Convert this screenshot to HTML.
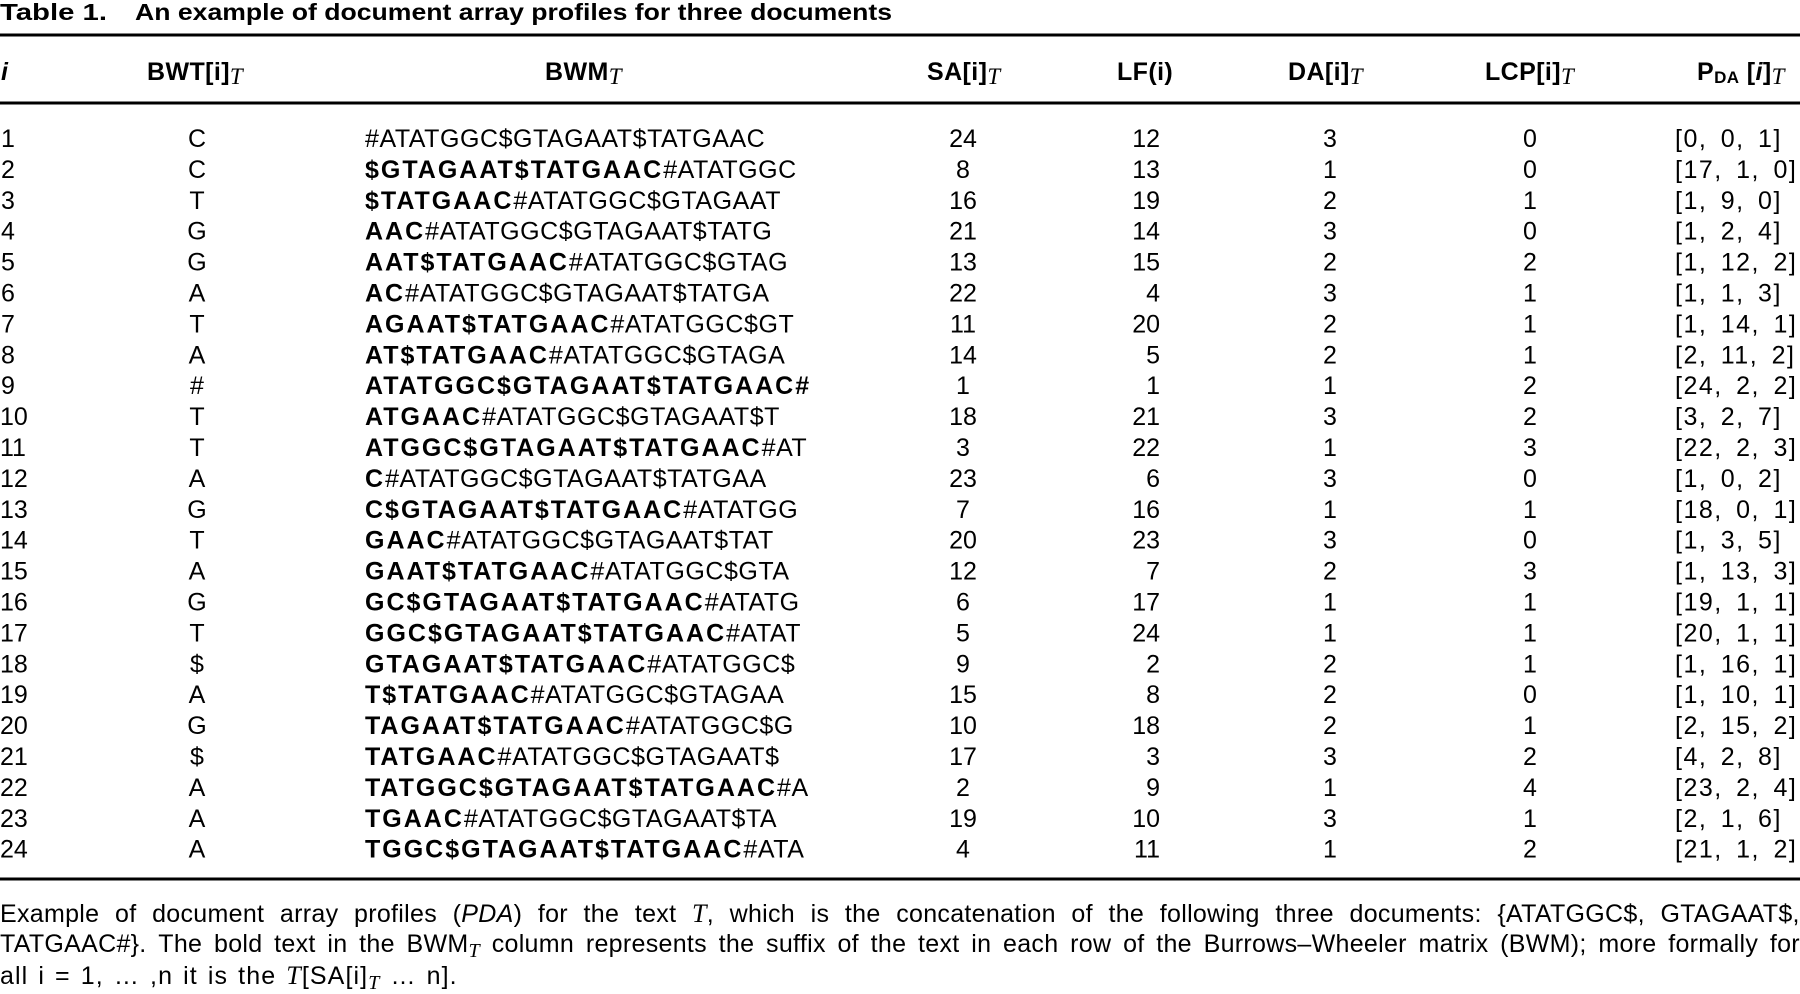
<!DOCTYPE html>
<html>
<head>
<meta charset="utf-8">
<style>
html,body{margin:0;padding:0;background:#fff;}
body{position:relative;width:1800px;height:991px;overflow:hidden;}
svg{display:block;position:absolute;left:0;top:0;}
.b{font-weight:bold;letter-spacing:2px;}
.sc{font-family:"Liberation Serif",serif;font-style:italic;font-weight:normal;}
.cap{position:absolute;left:0;width:1800px;height:30px;line-height:30px;font-family:"Liberation Sans",sans-serif;font-size:25px;color:#000;white-space:nowrap;}
.j{display:flex;justify-content:space-between;letter-spacing:0.3px;}
.scr{font-family:"Liberation Serif",serif;font-style:italic;font-size:26px;}
.sub{font-family:"Liberation Serif",serif;font-style:italic;font-size:20px;position:relative;top:5px;}
</style>
</head>
<body>
<svg width="1800" height="991" viewBox="0 0 1800 991" font-family="Liberation Sans, sans-serif" font-size="25" fill="#000">
<!-- Title -->
<text x="0" y="20" font-weight="bold" font-size="23" textLength="107" lengthAdjust="spacingAndGlyphs">Table 1.</text>
<text x="135" y="20" font-weight="bold" font-size="23" textLength="757" lengthAdjust="spacingAndGlyphs">An example of document array profiles for three documents</text>

<!-- Rules -->
<rect x="0" y="33.5" width="1800" height="3"/>
<rect x="0" y="101.5" width="1800" height="3"/>
<rect x="0" y="877.5" width="1800" height="3"/>

<!-- Header -->
<g font-weight="bold" font-size="25" letter-spacing="0.4">
<text x="1" y="80" font-style="italic">i</text>
<text x="147" y="80">BWT[i]<tspan class="sc" font-size="23" dy="4">T</tspan></text>
<text x="545" y="80">BWM<tspan class="sc" font-size="23" dy="4">T</tspan></text>
<text x="927" y="80">SA[i]<tspan class="sc" font-size="23" dy="4">T</tspan></text>
<text x="1117" y="80">LF(i)</text>
<text x="1288" y="80">DA[i]<tspan class="sc" font-size="23" dy="4">T</tspan></text>
<text x="1485" y="80">LCP[i]<tspan class="sc" font-size="23" dy="4">T</tspan></text>
<text x="1697" y="80">P<tspan font-size="17" dy="3">DA</tspan><tspan dy="-3"> [</tspan><tspan font-style="italic">i</tspan>]<tspan class="sc" font-size="23" dy="4">T</tspan></text>
</g>

<!-- Column i -->
<g>
<text x="1" y="147">1</text>
<text x="1" y="177.9">2</text>
<text x="1" y="208.8">3</text>
<text x="1" y="239.7">4</text>
<text x="1" y="270.6">5</text>
<text x="1" y="301.5">6</text>
<text x="1" y="332.4">7</text>
<text x="1" y="363.3">8</text>
<text x="1" y="394.2">9</text>
<text x="0" y="425.1">10</text>
<text x="0" y="456">11</text>
<text x="0" y="486.9">12</text>
<text x="0" y="517.8">13</text>
<text x="0" y="548.7">14</text>
<text x="0" y="579.6">15</text>
<text x="0" y="610.5">16</text>
<text x="0" y="641.4">17</text>
<text x="0" y="672.3">18</text>
<text x="0" y="703.2">19</text>
<text x="0" y="734.1">20</text>
<text x="0" y="765">21</text>
<text x="0" y="795.9">22</text>
<text x="0" y="826.8">23</text>
<text x="0" y="857.7">24</text>
</g>

<!-- BWT -->
<g text-anchor="middle">
<text x="197" y="147">C</text>
<text x="197" y="177.9">C</text>
<text x="197" y="208.8">T</text>
<text x="197" y="239.7">G</text>
<text x="197" y="270.6">G</text>
<text x="197" y="301.5">A</text>
<text x="197" y="332.4">T</text>
<text x="197" y="363.3">A</text>
<text x="197" y="394.2">#</text>
<text x="197" y="425.1">T</text>
<text x="197" y="456">T</text>
<text x="197" y="486.9">A</text>
<text x="197" y="517.8">G</text>
<text x="197" y="548.7">T</text>
<text x="197" y="579.6">A</text>
<text x="197" y="610.5">G</text>
<text x="197" y="641.4">T</text>
<text x="197" y="672.3">$</text>
<text x="197" y="703.2">A</text>
<text x="197" y="734.1">G</text>
<text x="197" y="765">$</text>
<text x="197" y="795.9">A</text>
<text x="197" y="826.8">A</text>
<text x="197" y="857.7">A</text>
</g>

<!-- BWM -->
<g font-size="25" letter-spacing="0.55">
<text x="365" y="147">#ATATGGC$GTAGAAT$TATGAAC</text>
<text x="365" y="177.9"><tspan class="b">$GTAGAAT$TATGAAC</tspan>#ATATGGC</text>
<text x="365" y="208.8"><tspan class="b">$TATGAAC</tspan>#ATATGGC$GTAGAAT</text>
<text x="365" y="239.7"><tspan class="b">AAC</tspan>#ATATGGC$GTAGAAT$TATG</text>
<text x="365" y="270.6"><tspan class="b">AAT$TATGAAC</tspan>#ATATGGC$GTAG</text>
<text x="365" y="301.5"><tspan class="b">AC</tspan>#ATATGGC$GTAGAAT$TATGA</text>
<text x="365" y="332.4"><tspan class="b">AGAAT$TATGAAC</tspan>#ATATGGC$GT</text>
<text x="365" y="363.3"><tspan class="b">AT$TATGAAC</tspan>#ATATGGC$GTAGA</text>
<text x="365" y="394.2"><tspan class="b">ATATGGC$GTAGAAT$TATGAAC#</tspan></text>
<text x="365" y="425.1"><tspan class="b">ATGAAC</tspan>#ATATGGC$GTAGAAT$T</text>
<text x="365" y="456"><tspan class="b">ATGGC$GTAGAAT$TATGAAC</tspan>#AT</text>
<text x="365" y="486.9"><tspan class="b">C</tspan>#ATATGGC$GTAGAAT$TATGAA</text>
<text x="365" y="517.8"><tspan class="b">C$GTAGAAT$TATGAAC</tspan>#ATATGG</text>
<text x="365" y="548.7"><tspan class="b">GAAC</tspan>#ATATGGC$GTAGAAT$TAT</text>
<text x="365" y="579.6"><tspan class="b">GAAT$TATGAAC</tspan>#ATATGGC$GTA</text>
<text x="365" y="610.5"><tspan class="b">GC$GTAGAAT$TATGAAC</tspan>#ATATG</text>
<text x="365" y="641.4"><tspan class="b">GGC$GTAGAAT$TATGAAC</tspan>#ATAT</text>
<text x="365" y="672.3"><tspan class="b">GTAGAAT$TATGAAC</tspan>#ATATGGC$</text>
<text x="365" y="703.2"><tspan class="b">T$TATGAAC</tspan>#ATATGGC$GTAGAA</text>
<text x="365" y="734.1"><tspan class="b">TAGAAT$TATGAAC</tspan>#ATATGGC$G</text>
<text x="365" y="765"><tspan class="b">TATGAAC</tspan>#ATATGGC$GTAGAAT$</text>
<text x="365" y="795.9"><tspan class="b">TATGGC$GTAGAAT$TATGAAC</tspan>#A</text>
<text x="365" y="826.8"><tspan class="b">TGAAC</tspan>#ATATGGC$GTAGAAT$TA</text>
<text x="365" y="857.7"><tspan class="b">TGGC$GTAGAAT$TATGAAC</tspan>#ATA</text>
</g>

<!-- SA -->
<g text-anchor="middle">
<text x="963" y="147">24</text>
<text x="963" y="177.9">8</text>
<text x="963" y="208.8">16</text>
<text x="963" y="239.7">21</text>
<text x="963" y="270.6">13</text>
<text x="963" y="301.5">22</text>
<text x="963" y="332.4">11</text>
<text x="963" y="363.3">14</text>
<text x="963" y="394.2">1</text>
<text x="963" y="425.1">18</text>
<text x="963" y="456">3</text>
<text x="963" y="486.9">23</text>
<text x="963" y="517.8">7</text>
<text x="963" y="548.7">20</text>
<text x="963" y="579.6">12</text>
<text x="963" y="610.5">6</text>
<text x="963" y="641.4">5</text>
<text x="963" y="672.3">9</text>
<text x="963" y="703.2">15</text>
<text x="963" y="734.1">10</text>
<text x="963" y="765">17</text>
<text x="963" y="795.9">2</text>
<text x="963" y="826.8">19</text>
<text x="963" y="857.7">4</text>
</g>

<!-- LF -->
<g text-anchor="end">
<text x="1160" y="147">12</text>
<text x="1160" y="177.9">13</text>
<text x="1160" y="208.8">19</text>
<text x="1160" y="239.7">14</text>
<text x="1160" y="270.6">15</text>
<text x="1160" y="301.5">4</text>
<text x="1160" y="332.4">20</text>
<text x="1160" y="363.3">5</text>
<text x="1160" y="394.2">1</text>
<text x="1160" y="425.1">21</text>
<text x="1160" y="456">22</text>
<text x="1160" y="486.9">6</text>
<text x="1160" y="517.8">16</text>
<text x="1160" y="548.7">23</text>
<text x="1160" y="579.6">7</text>
<text x="1160" y="610.5">17</text>
<text x="1160" y="641.4">24</text>
<text x="1160" y="672.3">2</text>
<text x="1160" y="703.2">8</text>
<text x="1160" y="734.1">18</text>
<text x="1160" y="765">3</text>
<text x="1160" y="795.9">9</text>
<text x="1160" y="826.8">10</text>
<text x="1160" y="857.7">11</text>
</g>

<!-- DA -->
<g text-anchor="middle">
<text x="1330" y="147">3</text>
<text x="1330" y="177.9">1</text>
<text x="1330" y="208.8">2</text>
<text x="1330" y="239.7">3</text>
<text x="1330" y="270.6">2</text>
<text x="1330" y="301.5">3</text>
<text x="1330" y="332.4">2</text>
<text x="1330" y="363.3">2</text>
<text x="1330" y="394.2">1</text>
<text x="1330" y="425.1">3</text>
<text x="1330" y="456">1</text>
<text x="1330" y="486.9">3</text>
<text x="1330" y="517.8">1</text>
<text x="1330" y="548.7">3</text>
<text x="1330" y="579.6">2</text>
<text x="1330" y="610.5">1</text>
<text x="1330" y="641.4">1</text>
<text x="1330" y="672.3">2</text>
<text x="1330" y="703.2">2</text>
<text x="1330" y="734.1">2</text>
<text x="1330" y="765">3</text>
<text x="1330" y="795.9">1</text>
<text x="1330" y="826.8">3</text>
<text x="1330" y="857.7">1</text>
</g>

<!-- LCP -->
<g text-anchor="middle">
<text x="1530" y="147">0</text>
<text x="1530" y="177.9">0</text>
<text x="1530" y="208.8">1</text>
<text x="1530" y="239.7">0</text>
<text x="1530" y="270.6">2</text>
<text x="1530" y="301.5">1</text>
<text x="1530" y="332.4">1</text>
<text x="1530" y="363.3">1</text>
<text x="1530" y="394.2">2</text>
<text x="1530" y="425.1">2</text>
<text x="1530" y="456">3</text>
<text x="1530" y="486.9">0</text>
<text x="1530" y="517.8">1</text>
<text x="1530" y="548.7">0</text>
<text x="1530" y="579.6">3</text>
<text x="1530" y="610.5">1</text>
<text x="1530" y="641.4">1</text>
<text x="1530" y="672.3">1</text>
<text x="1530" y="703.2">0</text>
<text x="1530" y="734.1">1</text>
<text x="1530" y="765">2</text>
<text x="1530" y="795.9">4</text>
<text x="1530" y="826.8">1</text>
<text x="1530" y="857.7">2</text>
</g>

<!-- PDA -->
<g letter-spacing="1.5" word-spacing="5">
<text x="1675" y="147">[0, 0, 1]</text>
<text x="1675" y="177.9">[17, 1, 0]</text>
<text x="1675" y="208.8">[1, 9, 0]</text>
<text x="1675" y="239.7">[1, 2, 4]</text>
<text x="1675" y="270.6">[1, 12, 2]</text>
<text x="1675" y="301.5">[1, 1, 3]</text>
<text x="1675" y="332.4">[1, 14, 1]</text>
<text x="1675" y="363.3">[2, 11, 2]</text>
<text x="1675" y="394.2">[24, 2, 2]</text>
<text x="1675" y="425.1">[3, 2, 7]</text>
<text x="1675" y="456">[22, 2, 3]</text>
<text x="1675" y="486.9">[1, 0, 2]</text>
<text x="1675" y="517.8">[18, 0, 1]</text>
<text x="1675" y="548.7">[1, 3, 5]</text>
<text x="1675" y="579.6">[1, 13, 3]</text>
<text x="1675" y="610.5">[19, 1, 1]</text>
<text x="1675" y="641.4">[20, 1, 1]</text>
<text x="1675" y="672.3">[1, 16, 1]</text>
<text x="1675" y="703.2">[1, 10, 1]</text>
<text x="1675" y="734.1">[2, 15, 2]</text>
<text x="1675" y="765">[4, 2, 8]</text>
<text x="1675" y="795.9">[23, 2, 4]</text>
<text x="1675" y="826.8">[2, 1, 6]</text>
<text x="1675" y="857.7">[21, 1, 2]</text>
</g>
</svg>

<!-- Caption -->
<div class="cap j" style="top:899px;"><span>Example</span><span>of</span><span>document</span><span>array</span><span>profiles</span><span>(<i>PDA</i>)</span><span>for</span><span>the</span><span>text</span><span><span class="scr">T</span>,</span><span>which</span><span>is</span><span>the</span><span>concatenation</span><span>of</span><span>the</span><span>following</span><span>three</span><span>documents:</span><span>{ATATGGC$,</span><span>GTAGAAT$,</span></div>
<div class="cap j" style="top:929px;"><span>TATGAAC#}.</span><span>The</span><span>bold</span><span>text</span><span>in</span><span>the</span><span>BWM<span class="sub">T</span></span><span>column</span><span>represents</span><span>the</span><span>suffix</span><span>of</span><span>the</span><span>text</span><span>in</span><span>each</span><span>row</span><span>of</span><span>the</span><span>Burrows–Wheeler</span><span>matrix</span><span>(BWM);</span><span>more</span><span>formally</span><span>for</span></div>
<div class="cap" style="top:961px;letter-spacing:1.1px;word-spacing:2px;">all i = 1, … ,n it is the <span class="scr">T</span>[SA[i]<span class="sub">T</span> … n].</div>
</body>
</html>
